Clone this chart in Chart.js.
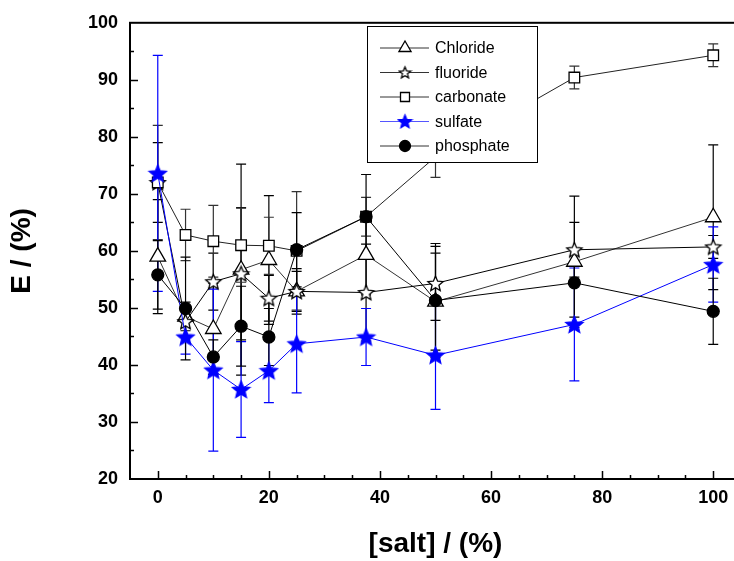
<!DOCTYPE html>
<html lang="en">
<head>
    <meta charset="UTF-8">
    <title>E vs salt</title>
    <script src="https://cdn.jsdelivr.net/npm/chart.js@4.4.0/dist/chart.umd.min.js"></script>
    <style>
        body { margin: 0; overflow: hidden; background: #fff; }
        canvas { display: block; }
    </style>
</head>
<body>
    <canvas id="saltChart" width="760" height="561"></canvas>
    <script>
        // data
        const saltLevels = [0, 5, 10, 15, 20, 25, 37.5, 50, 75, 100];

        const chloride = [59.0, 48.5, 46.3, 56.7, 58.4, 52.9, 59.3, 51.1, 58.1, 65.9];
        const chlorideErr = [10, 2.5, 8, 18.5, 11.3, 3.5, 7, 8.5, 11.5, 12.7];

        const fluoride = [72.0, 47.6, 54.6, 56.0, 51.7, 52.9, 52.7, 54.3, 60.2, 60.7];
        const fluorideErr = [7, 2.5, 5, 11.6, 4, 4, 8.5, 6.5, 4.8, 2];

        const carbonate = [72.0, 62.8, 61.7, 61.0, 60.9, 60.0, 66.0, 76.5, 90.4, 94.3];
        const carbonateErr = [10, 4.5, 6.3, 6.5, 5, 10.4, 3.4, 3.6, 2, 2];

        const sulfate = [73.6, 44.9, 39.1, 35.7, 39.0, 43.7, 44.9, 41.7, 47.1, 57.6];
        const sulfateErr = [20.7, 3, 14.2, 8.4, 5.6, 8.6, 5, 9.5, 9.9, 6.6];

        const phosphate = [55.8, 49.9, 41.4, 46.8, 44.9, 60.2, 66.0, 51.3, 54.4, 49.4];
        const phosphateErr = [6, 9, 3, 7, 5, 6.5, 7.4, 10, 6, 5.8];

        const xTicks = [0, 20, 40, 60, 80, 100];
        const yTicks = [20, 30, 40, 50, 60, 70, 80, 90, 100];

        const FONT = "'Liberation Sans', Arial, sans-serif";
        const BLUE = '#0000ff';

        function makeStar(outer, fill, stroke) {
            const size = Math.ceil(outer * 2 + 3);
            const c = document.createElement('canvas');
            c.width = size; c.height = size;
            const g = c.getContext('2d');
            const inner = outer * 0.45;
            g.beginPath();
            for (let i = 0; i < 10; i++) {
                const r = i % 2 === 0 ? outer : inner;
                const a = -Math.PI / 2 + i * Math.PI / 5;
                const px = size / 2 + r * Math.cos(a);
                const py = size / 2 + r * Math.sin(a) + outer * 0.08;
                if (i === 0) g.moveTo(px, py); else g.lineTo(px, py);
            }
            g.closePath();
            g.fillStyle = fill;
            g.fill();
            g.lineWidth = 1.3;
            g.strokeStyle = stroke;
            g.stroke();
            return c;
        }

        const openStar = makeStar(8, '#ffffff', '#000000');
        const blueStar = makeStar(9, BLUE, BLUE);
        const openStarSmall = makeStar(6, '#ffffff', '#000000');
        const blueStarSmall = makeStar(7, BLUE, BLUE);

        function points(ys) {
            return saltLevels.map((x, i) => ({ x: x, y: ys[i] }));
        }

        const series = [
            { label: 'Chloride', ys: chloride, err: chlorideErr, line: '#333333', bar: '#000000',
              style: 'triangle', radius: 9, fill: '#ffffff', legendStyle: 'triangle', legendRadius: 7 },
            { label: 'fluoride', ys: fluoride, err: fluorideErr, line: '#000000', bar: '#000000',
              style: openStar, radius: 8, fill: '#ffffff', legendStyle: openStarSmall, legendRadius: 6 },
            { label: 'carbonate', ys: carbonate, err: carbonateErr, line: '#222222', bar: '#333333',
              style: 'rect', radius: 7.5, fill: '#ffffff', legendStyle: 'rect', legendRadius: 6 },
            { label: 'sulfate', ys: sulfate, err: sulfateErr, line: BLUE, bar: BLUE,
              style: blueStar, radius: 9, fill: BLUE, legendStyle: blueStarSmall, legendRadius: 7 },
            { label: 'phosphate', ys: phosphate, err: phosphateErr, line: '#000000', bar: '#000000',
              style: 'circle', radius: 6, fill: '#000000', legendStyle: 'circle', legendRadius: 5.5 }
        ];

        // error bars behind the markers
        const errorBars = {
            id: 'errorBars',
            beforeDatasetsDraw(chart) {
                const ctx = chart.ctx;
                const xs = chart.scales.x, ys = chart.scales.y;
                ctx.save();
                ctx.beginPath();
                ctx.rect(chart.chartArea.left, chart.chartArea.top,
                         chart.chartArea.right - chart.chartArea.left,
                         chart.chartArea.bottom - chart.chartArea.top);
                ctx.clip();
                ctx.lineWidth = 1.2;
                series.forEach(s => {
                    ctx.strokeStyle = s.bar;
                    saltLevels.forEach((x, i) => {
                        const px = xs.getPixelForValue(x);
                        const top = ys.getPixelForValue(s.ys[i] + s.err[i]);
                        const bot = ys.getPixelForValue(s.ys[i] - s.err[i]);
                        ctx.beginPath();
                        ctx.moveTo(px, top); ctx.lineTo(px, bot);
                        ctx.moveTo(px - 5, top); ctx.lineTo(px + 5, top);
                        ctx.moveTo(px - 5, bot); ctx.lineTo(px + 5, bot);
                        ctx.stroke();
                    });
                });
                ctx.restore();
            }
        };

        // frame, inward ticks and the boxed legend
        const frameAndLegend = {
            id: 'frameAndLegend',
            afterDraw(chart) {
                const ctx = chart.ctx;
                const a = chart.chartArea;
                const xs = chart.scales.x, ys = chart.scales.y;
                ctx.save();
                ctx.strokeStyle = '#000';
                ctx.lineWidth = 2;
                ctx.strokeRect(a.left, a.top, a.right - a.left, a.bottom - a.top);

                ctx.lineWidth = 1.5;
                ctx.beginPath();
                for (let v = 0; v <= 100; v += 5) {
                    const px = Math.round(xs.getPixelForValue(v)) + 0.5;
                    const len = v % 20 === 0 ? 8 : 4;
                    ctx.moveTo(px, a.bottom); ctx.lineTo(px, a.bottom - len);
                }
                for (let v = 25; v < 100; v += 5) {
                    const py = Math.round(ys.getPixelForValue(v)) + 0.5;
                    const len = v % 10 === 0 ? 8 : 4;
                    ctx.moveTo(a.left, py); ctx.lineTo(a.left + len, py);
                }
                ctx.stroke();

                // legend box
                const bx = 367, by = 26, bw = 170, bh = 136;
                ctx.fillStyle = '#fff';
                ctx.fillRect(bx, by, bw, bh);
                ctx.lineWidth = 1;
                ctx.strokeStyle = '#000';
                ctx.strokeRect(bx + 0.5, by + 0.5, bw, bh);

                ctx.font = '16px ' + FONT;
                ctx.textBaseline = 'middle';
                ctx.textAlign = 'left';
                series.forEach((s, i) => {
                    const ly = by + 22 + i * 24.5;
                    ctx.strokeStyle = s.line === BLUE ? '#5555ff' : '#333';
                    ctx.lineWidth = 1;
                    ctx.beginPath();
                    ctx.moveTo(bx + 13, ly); ctx.lineTo(bx + 62, ly);
                    ctx.stroke();
                    ctx.fillStyle = s.fill;
                    ctx.strokeStyle = s.line === BLUE ? BLUE : '#000';
                    if (typeof s.legendStyle === 'string') {
                        ctx.lineWidth = 1.3;
                        ctx.beginPath();
                        if (s.legendStyle === 'circle') {
                            ctx.arc(bx + 38, ly, s.legendRadius, 0, Math.PI * 2);
                        } else if (s.legendStyle === 'rect') {
                            ctx.rect(bx + 38 - 4.5, ly - 4.5, 9, 9);
                        } else {
                            const r = s.legendRadius;
                            ctx.moveTo(bx + 38, ly - r);
                            ctx.lineTo(bx + 38 + r * 0.866, ly + r * 0.5);
                            ctx.lineTo(bx + 38 - r * 0.866, ly + r * 0.5);
                            ctx.closePath();
                        }
                        ctx.fill();
                        ctx.stroke();
                    } else {
                        const img = s.legendStyle;
                        ctx.drawImage(img, bx + 38 - img.width / 2, ly - img.height / 2);
                    }
                    ctx.fillStyle = '#000';
                    ctx.fillText(s.label, bx + 68, ly + 1);
                });
                ctx.restore();
            }
        };

        const ctx = document.getElementById('saltChart').getContext('2d');
        const saltChart = new Chart(ctx, {
            type: 'line',
            data: {
                datasets: series.map(s => ({
                    label: s.label,
                    data: points(s.ys),
                    borderColor: s.line,
                    borderWidth: 1,
                    backgroundColor: s.fill,
                    pointStyle: s.style,
                    pointRadius: s.radius,
                    pointBackgroundColor: s.fill,
                    pointBorderColor: s.line === BLUE ? BLUE : '#000',
                    pointBorderWidth: 1.3,
                    fill: false,
                    tension: 0
                })).reverse()
            },
            options: {
                responsive: false,
                animation: false,
                devicePixelRatio: 1,
                layout: { padding: { top: 19, right: 19, left: 0, bottom: 0 } },
                plugins: {
                    legend: { display: false },
                    tooltip: { enabled: false }
                },
                scales: {
                    x: {
                        type: 'linear',
                        min: -5,
                        max: 105,
                        afterBuildTicks: scale => { scale.ticks = xTicks.map(v => ({ value: v })); },
                        afterFit: scale => { scale.height = 82; },
                        grid: { display: false, drawTicks: false },
                        border: { display: false },
                        ticks: {
                            color: '#000',
                            padding: 8,
                            maxRotation: 0,
                            autoSkip: false,
                            font: { family: FONT, size: 18, weight: 'bold' }
                        },
                        title: {
                            display: true,
                            text: '[salt] / (%)',
                            color: '#000',
                            padding: { top: 0, bottom: 0 },
                            font: { family: FONT, size: 28, weight: 'bold' }
                        }
                    },
                    y: {
                        min: 20,
                        max: 100,
                        afterBuildTicks: scale => { scale.ticks = yTicks.map(v => ({ value: v })); },
                        afterFit: scale => { scale.width = 130; },
                        grid: { display: false, drawTicks: false },
                        border: { display: false },
                        ticks: {
                            color: '#000',
                            padding: 12,
                            autoSkip: false,
                            font: { family: FONT, size: 18, weight: 'bold' }
                        },
                        title: {
                            display: true,
                            text: 'E / (%)',
                            color: '#000',
                            padding: { top: 5, bottom: 5 },
                            font: { family: FONT, size: 28, weight: 'bold' }
                        }
                    }
                }
            },
            plugins: [errorBars, frameAndLegend]
        });
    </script>
</body>
</html>
